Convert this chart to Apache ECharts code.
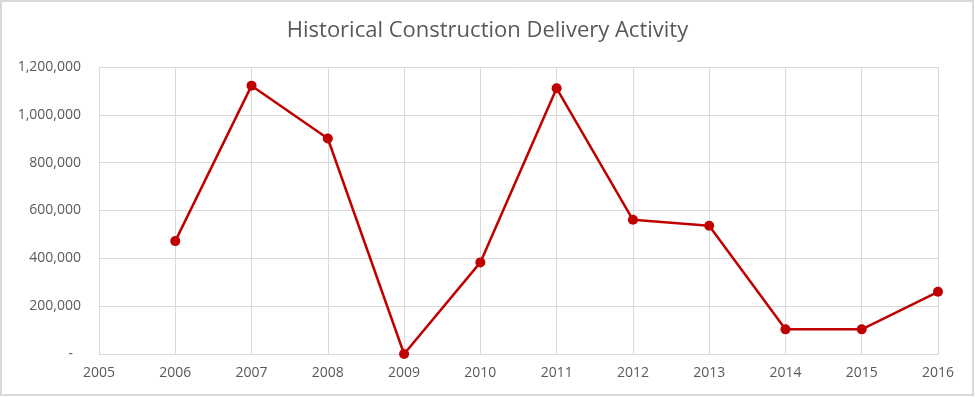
<!DOCTYPE html>
<html>
<head>
<meta charset="utf-8">
<script src="https://cdn.jsdelivr.net/npm/echarts@6/dist/echarts.min.js"></script>
<style>
  html, body { margin: 0; padding: 0; background: #fff; }
  #chart { width: 975px; height: 397px; }
</style>
</head>
<body>
<div id="chart"></div>
<script>
// data
var years = ['2005', '2006', '2007', '2008', '2009', '2010', '2011', '2012', '2013', '2014', '2015', '2016']
var deliveries = [null, 472000, 1122000, 901000, 0, 383000, 1111000, 561000, 536000, 103000, 103000, 260000]
var yTicks = [0, 200000, 400000, 600000, 800000, 1000000, 1200000]

var labelColor = '#595959'
var gridColor = '#d9d9d9'

var chart = echarts.init(document.getElementById('chart'))
chart.setOption({
  animation: false,
  backgroundColor: '#fff',
  title: {
    text: 'Historical Construction Delivery Activity',
    left: 'center',
    top: 15,
    textStyle: {
      fontFamily: 'Open Sans',
      fontSize: 22,
      fontWeight: 'normal',
      color: labelColor
    }
  },
  graphic: [{
    type: 'rect',
    shape: { x: 1, y: 1, width: 972, height: 394 },
    style: { fill: 'none', stroke: gridColor, lineWidth: 2 },
    silent: true
  }],
  grid: { left: 99, right: 37, top: 67, bottom: 43 },
  xAxis: {
    type: 'category',
    data: years,
    boundaryGap: false,
    axisLine: { lineStyle: { color: gridColor } },
    axisTick: { show: false },
    splitLine: { show: true, lineStyle: { color: gridColor } },
    axisLabel: {
      color: labelColor,
      fontFamily: 'Open Sans',
      fontSize: 14,
      margin: 12
    }
  },
  yAxis: {
    type: 'value',
    min: yTicks[0],
    max: yTicks[yTicks.length - 1],
    interval: 200000,
    axisLine: { show: false },
    axisTick: { show: false },
    splitLine: { lineStyle: { color: gridColor } },
    axisLabel: {
      color: labelColor,
      fontFamily: 'Open Sans',
      fontSize: 14,
      margin: 18,
      formatter: function(v) {
        if (v === 0) return '{z|-}'
        return v.toLocaleString('en-US')
      },
      rich: {
        z: { color: labelColor, fontFamily: 'Open Sans', fontSize: 14, padding: [0, 8, 0, 0] }
      }
    }
  },
  series: [{
    type: 'line',
    data: deliveries,
    connectNulls: false,
    symbol: 'circle',
    symbolSize: 10,
    itemStyle: { color: '#c00000' },
    lineStyle: { color: '#c00000', width: 2.5 }
  }]
})
</script>
</body>
</html>
